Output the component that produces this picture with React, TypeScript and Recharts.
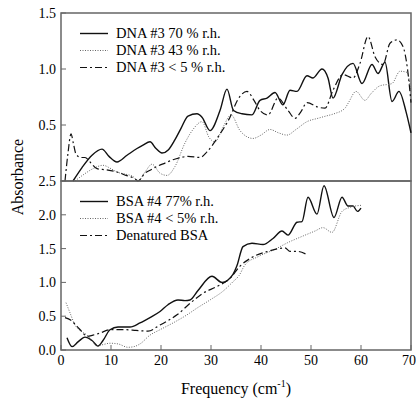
import { LineChart, Line, XAxis, YAxis, ReferenceArea } from 'recharts'

const FONT = "'Liberation Serif', 'DejaVu Serif', serif"
const INK = '#111'
const FRAME = '#666'

const xTicks = [0, 10, 20, 30, 40, 50, 60, 70]
const topYTicks = [0.5, 1.0, 1.5]
const bottomYTicks = [0, 0.5, 1.0, 1.5, 2.0, 2.5]

// DNA #3, top panel
const dna70 = [
  [2.4, 0.0], [4.2, 0.12], [6.2, 0.23], [8.2, 0.285], [9.6, 0.22], [11.2, 0.17], [13.2, 0.23],
  [15.2, 0.29], [16.4, 0.32], [17.8, 0.35], [19.0, 0.29], [20.2, 0.25], [21.5, 0.28], [22.8, 0.37],
  [24.0, 0.47], [25.4, 0.58], [27.2, 0.6], [28.2, 0.57], [29.8, 0.45], [31.8, 0.63], [33.2, 0.82],
  [34.5, 0.63], [36.2, 0.6], [38.2, 0.59], [39.8, 0.72], [41.2, 0.74], [42.8, 0.79], [44.4, 0.68],
  [45.8, 0.81], [47.2, 0.8], [49.2, 0.94], [50.4, 0.92], [52.2, 1.0], [53.4, 0.92], [54.4, 0.74],
  [56.2, 0.95], [58.4, 1.05], [60.2, 0.87], [62.2, 1.04], [63.4, 0.96], [64.8, 1.06], [66.2, 0.71],
  [67.6, 0.8], [69.0, 0.62], [70, 0.43],
]
const dna43 = [
  [2.8, 0.0], [4.6, 0.06], [6.4, 0.11], [8.4, 0.14], [10, 0.11], [11.2, 0.08], [13, 0.06],
  [14.4, 0.04], [15.4, 0.0], [16.8, 0.08], [18.2, 0.15], [19.8, 0.07], [21.2, 0.05], [22.8, 0.13],
  [24.8, 0.34], [26.4, 0.46], [28.2, 0.53], [29.6, 0.39], [30.8, 0.35], [32.4, 0.48], [34.0, 0.59],
  [35.8, 0.45], [37, 0.4], [38.4, 0.38], [40, 0.41], [41.8, 0.46], [43.5, 0.43], [45.2, 0.41],
  [47, 0.46], [49.2, 0.53], [51.4, 0.56], [53, 0.58], [54.6, 0.6], [56.8, 0.65], [57.5, 0.7],
  [59.0, 0.8], [60.8, 0.72], [62, 0.78], [63.8, 0.85], [66.2, 0.87], [67.8, 0.98], [69.2, 0.97],
  [70, 0.8],
]
const dna5 = [
  [0.8, 0.0], [1.4, 0.25], [2.0, 0.42], [2.5, 0.33], [3.0, 0.24], [4.0, 0.21], [4.8, 0.21],
  [6.0, 0.16], [7.2, 0.11], [9.0, 0.1], [11.2, 0.08], [13, 0.05], [14.8, 0.02], [15.4, 0.0],
  [16.8, 0.07], [18, 0.1], [19.2, 0.13], [20.8, 0.16], [22.4, 0.19], [24, 0.21], [25.4, 0.22],
  [27.8, 0.21], [29.2, 0.26], [31.2, 0.38], [33.8, 0.57], [35.4, 0.73], [37.2, 0.8], [38.6, 0.72],
  [39.8, 0.63], [41.4, 0.59], [43.4, 0.74], [45.4, 0.63], [46.8, 0.56], [48, 0.62], [49.2, 0.7],
  [51.4, 0.66], [52.8, 0.65], [54.4, 0.81], [56.4, 0.95], [58.4, 0.92], [59.8, 1.05], [61.4, 1.29],
  [62.8, 1.11], [64.4, 1.04], [65.8, 1.23], [67.2, 1.26], [68.4, 1.2], [69.3, 1.0], [70, 0.7],
]

// BSA #4, bottom panel
const bsa77 = [
  [1.2, 0.18], [2.2, 0.05], [3.4, 0.12], [4.8, 0.19], [6.2, 0.14], [7.4, 0.06], [8.4, 0.14],
  [9.8, 0.3], [11.4, 0.34], [13.8, 0.34], [15.8, 0.4], [17.8, 0.48], [19.8, 0.57], [21.4, 0.67],
  [23.4, 0.74], [24.8, 0.73], [25.8, 0.74], [27.4, 0.88], [30.2, 1.09], [32.2, 1.0], [34.4, 1.12],
  [35.2, 1.25], [36.4, 1.53], [38.2, 1.58], [40.4, 1.56], [42.4, 1.65], [44.2, 1.76], [45.4, 1.7],
  [47.2, 1.89], [48.2, 1.9], [49.4, 2.26], [51.2, 2.01], [52.6, 2.43], [54.6, 1.96], [56.2, 2.26],
  [57.4, 2.13], [58.4, 2.13], [59.3, 2.05], [60, 2.1],
]
const bsa5 = [
  [1.0, 0.7], [1.8, 0.55], [2.8, 0.37], [4, 0.28], [5.2, 0.22], [6.2, 0.14], [7.2, 0.06],
  [8.4, 0.08], [9.8, 0.1], [11.4, 0.09], [13.4, 0.04], [14.6, 0.05], [15.8, 0.09], [17.8, 0.22],
  [19.8, 0.3], [22.4, 0.4], [25.2, 0.52], [27.2, 0.62], [29.8, 0.74], [32.4, 0.87], [34.4, 1.01],
  [35.6, 1.1], [36.8, 1.26], [39.4, 1.38], [42.8, 1.49], [45.4, 1.59], [48.2, 1.68], [50.8, 1.76],
  [52.4, 1.81], [54.2, 1.74], [56.2, 2.05], [57.8, 2.11], [60, 2.14],
]
const bsaDenat = [
  [0.8, 0.48], [2, 0.44], [3.2, 0.35], [4.2, 0.27], [5.2, 0.2], [6.4, 0.22], [7.8, 0.25],
  [9.8, 0.3], [11.2, 0.3], [13, 0.3], [15, 0.29], [17.4, 0.28], [19.8, 0.37], [21.5, 0.44],
  [23.2, 0.52], [25.8, 0.69], [28.4, 0.84], [31.2, 0.94], [33.8, 1.06], [35.8, 1.24], [38.2, 1.37],
  [41.4, 1.46], [44.8, 1.51], [45.8, 1.46], [47.2, 1.46], [49.2, 1.41],
]

const SOLID = { stroke: INK, strokeWidth: 1.4, dash: undefined }
const DOTTED = { stroke: '#666', strokeWidth: 1, dash: '1 1.5' }
const DASHDOT = { stroke: INK, strokeWidth: 1.2, dash: '7 3 2 3' }

const toPts = (arr: number[][]) => arr.map(([x, y]) => ({ x, y }))

const topSeries = [
  { name: 'DNA #3 70 % r.h.', data: toPts(dna70), style: SOLID },
  { name: 'DNA #3 43 % r.h.', data: toPts(dna43), style: DOTTED },
  { name: 'DNA #3 < 5 % r.h.', data: toPts(dna5), style: DASHDOT },
]
const bottomSeries = [
  { name: 'BSA #4 77% r.h.', data: toPts(bsa77), style: SOLID },
  { name: 'BSA #4 < 5% r.h.', data: toPts(bsa5), style: DOTTED },
  { name: 'Denatured BSA', data: toPts(bsaDenat), style: DASHDOT },
]

const tickStyle = { fill: '#000', fontSize: 14, fontFamily: FONT }

function LegendBox({ items, top }: { items: typeof topSeries; top: number }) {
  return (
    <div style={{ position: 'absolute', left: 79, top, fontFamily: FONT, fontSize: 14.5, color: '#000' }}>
      {items.map((s) => (
        <div key={s.name} style={{ display: 'flex', alignItems: 'center', height: 17, whiteSpace: 'pre' }}>
          <svg width={30} height={17} style={{ marginRight: 7 }}>
            <line x1={1} x2={29} y1={8.5} y2={8.5} stroke={s.style.stroke}
              strokeWidth={s.style.strokeWidth} strokeDasharray={s.style.dash} />
          </svg>
          <span>{s.name}</span>
        </div>
      ))}
    </div>
  )
}

function renderLines(series: typeof topSeries) {
  return series.map((s) => (
    <Line key={s.name} data={s.data} dataKey="y" type="monotone" dot={false}
      stroke={s.style.stroke} strokeWidth={s.style.strokeWidth} strokeDasharray={s.style.dash}
      isAnimationActive={false} />
  ))
}

export default function App() {
  return (
    <div style={{ position: 'absolute', left: 0, top: 0, width: 416, height: 399, background: '#fff', fontFamily: FONT }}>
      <div style={{ position: 'absolute', left: 0, top: 0 }}>
        <LineChart width={416} height={232} margin={{ top: 13, right: 5, bottom: 50, left: 0 }}>
          <XAxis type="number" dataKey="x" domain={[0, 70]} ticks={xTicks} height={1}
            axisLine={false} tick={false} tickSize={-5} tickLine={{ stroke: FRAME }} />
          <YAxis type="number" domain={[0, 1.5]} ticks={topYTicks} width={61}
            axisLine={false} tickSize={-5} tickMargin={10} tickLine={{ stroke: FRAME }}
            tick={tickStyle} tickFormatter={(v: number) => v.toFixed(1)}
            label={{
              content: (p: any) => {
                const vb = p.viewBox
                const cx = 23
                const cy = vb.y + vb.height - 4
                return (
                  <text x={cx} y={cy} transform={`rotate(-90 ${cx} ${cy})`} textAnchor="middle"
                    fontFamily={FONT} fontSize={16} fill="#000">Absorbance</text>
                )
              },
            }} />
          <ReferenceArea x1={0} x2={70} y1={0} y2={1.5} fill="none" stroke={FRAME} strokeWidth={1.5} />
          {renderLines(topSeries)}
        </LineChart>
      </div>
      <div style={{ position: 'absolute', left: 0, top: 168 }}>
        <LineChart width={416} height={231} margin={{ top: 0, right: 5, bottom: 0, left: 0 }}>
          <XAxis xAxisId="top" orientation="top" type="number" domain={[0, 70]} ticks={xTicks}
            height={13} axisLine={false} tick={false} tickSize={-5} tickLine={{ stroke: FRAME }} />
          <XAxis type="number" dataKey="x" domain={[0, 70]} ticks={xTicks} height={49}
            axisLine={false} tickSize={-5} tickMargin={10} tickLine={{ stroke: FRAME }} tick={tickStyle}
            label={{
              content: (p: any) => {
                const vb = p.viewBox
                return (
                  <text x={vb.x + vb.width / 2} y={vb.y + 44} textAnchor="middle"
                    fontFamily={FONT} fontSize={16} fill="#000">
                    <tspan>Frequency (cm</tspan>
                    <tspan dy={-7} fontSize={10}>-1</tspan>
                    <tspan dy={7}>)</tspan>
                  </text>
                )
              },
            }} />
          <YAxis type="number" domain={[0, 2.5]} ticks={bottomYTicks} width={61}
            axisLine={false} tickSize={-5} tickMargin={10} tickLine={{ stroke: FRAME }}
            tick={tickStyle} tickFormatter={(v: number) => v.toFixed(1)} />
          <ReferenceArea x1={0} x2={70} y1={0} y2={2.5} fill="none" stroke={FRAME} strokeWidth={1.5} />
          {renderLines(bottomSeries)}
        </LineChart>
      </div>
      <LegendBox items={topSeries} top={25} />
      <LegendBox items={bottomSeries} top={193} />
    </div>
  )
}
